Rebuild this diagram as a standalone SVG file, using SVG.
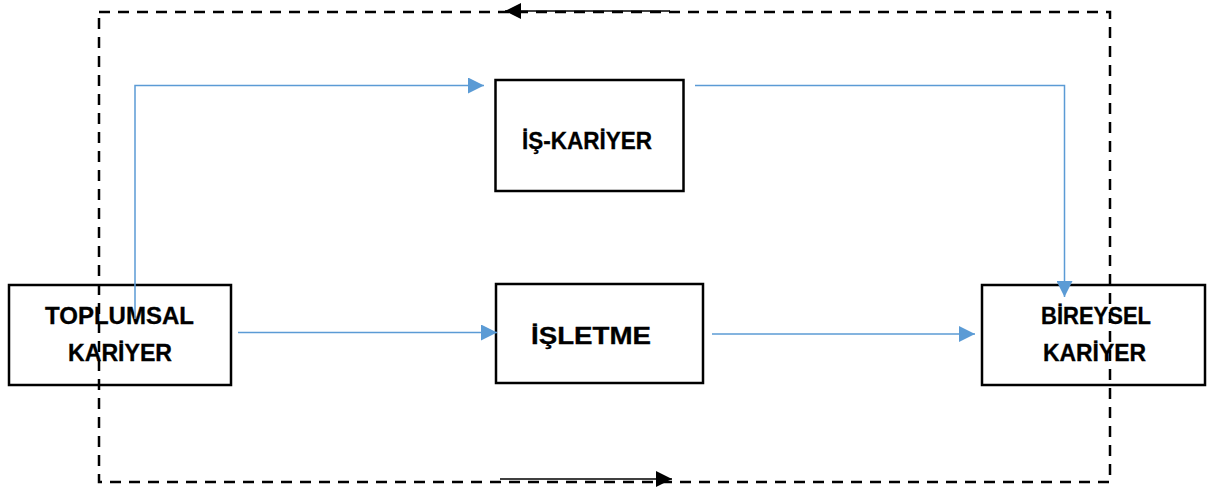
<svg xmlns="http://www.w3.org/2000/svg" width="1207" height="489" viewBox="0 0 1207 489">
<defs>
<style>
.box{fill:none;stroke:#000;stroke-width:2.5}
.lbl{font-family:"Liberation Sans",Arial,sans-serif;font-weight:bold;font-size:23px;fill:#000;stroke:#000;stroke-width:0.3}
.blue{fill:none;stroke:#5B9BD5;stroke-width:1.5}
.blk{fill:none;stroke:#000;stroke-width:1.5}
.dash{fill:none;stroke:#000;stroke-width:2.5;stroke-dasharray:11 8}
</style>
<marker id="ab" markerUnits="userSpaceOnUse" markerWidth="16" markerHeight="16" refX="16" refY="8" orient="auto">
<path d="M0,0 L16,8 L0,16 Z" fill="#5B9BD5"/>
</marker>
<marker id="ak" markerUnits="userSpaceOnUse" markerWidth="16" markerHeight="16" refX="16" refY="8" orient="auto">
<path d="M0,0 L16,8 L0,16 Z" fill="#000"/>
</marker>
</defs>
<g id="node-is-kariyer">
<rect class="box" x="495.5" y="80" width="188" height="111"/>
<text class="lbl" x="522" y="149" textLength="130" lengthAdjust="spacingAndGlyphs">İŞ-KARİYER</text>
</g>
<g id="node-isletme">
<rect class="box" x="496" y="284" width="207" height="99"/>
<text class="lbl" x="531" y="344" textLength="120" lengthAdjust="spacingAndGlyphs">İŞLETME</text>
</g>
<g id="node-toplumsal">
<rect class="box" x="9" y="285" width="222" height="100"/>
<text class="lbl" x="45" y="324" textLength="149" lengthAdjust="spacingAndGlyphs">TOPLUMSAL</text>
<text class="lbl" x="68" y="361" textLength="104" lengthAdjust="spacingAndGlyphs">KARİYER</text>
</g>
<g id="node-bireysel">
<rect class="box" x="982" y="285" width="223" height="100"/>
<text class="lbl" x="1041" y="324" textLength="110" lengthAdjust="spacingAndGlyphs">BİREYSEL</text>
<text class="lbl" x="1043" y="361" textLength="103" lengthAdjust="spacingAndGlyphs">KARİYER</text>
</g>
<g id="connectors">
<rect class="dash" x="99" y="12" width="1011" height="470"/>
<line class="blk" x1="670" y1="11" x2="505" y2="11" marker-end="url(#ak)"/>
<line class="blk" x1="500" y1="479" x2="672" y2="479" marker-end="url(#ak)"/>
<polyline class="blue" points="135,319 135,85.5 484,85.5" marker-end="url(#ab)"/>
<polyline class="blue" points="695,85.5 1064.5,85.5 1064.5,297" marker-end="url(#ab)"/>
<line class="blue" x1="238" y1="332.5" x2="497" y2="332.5" marker-end="url(#ab)"/>
<line class="blue" x1="712" y1="334" x2="975" y2="334" marker-end="url(#ab)"/>
</g>
</svg>
